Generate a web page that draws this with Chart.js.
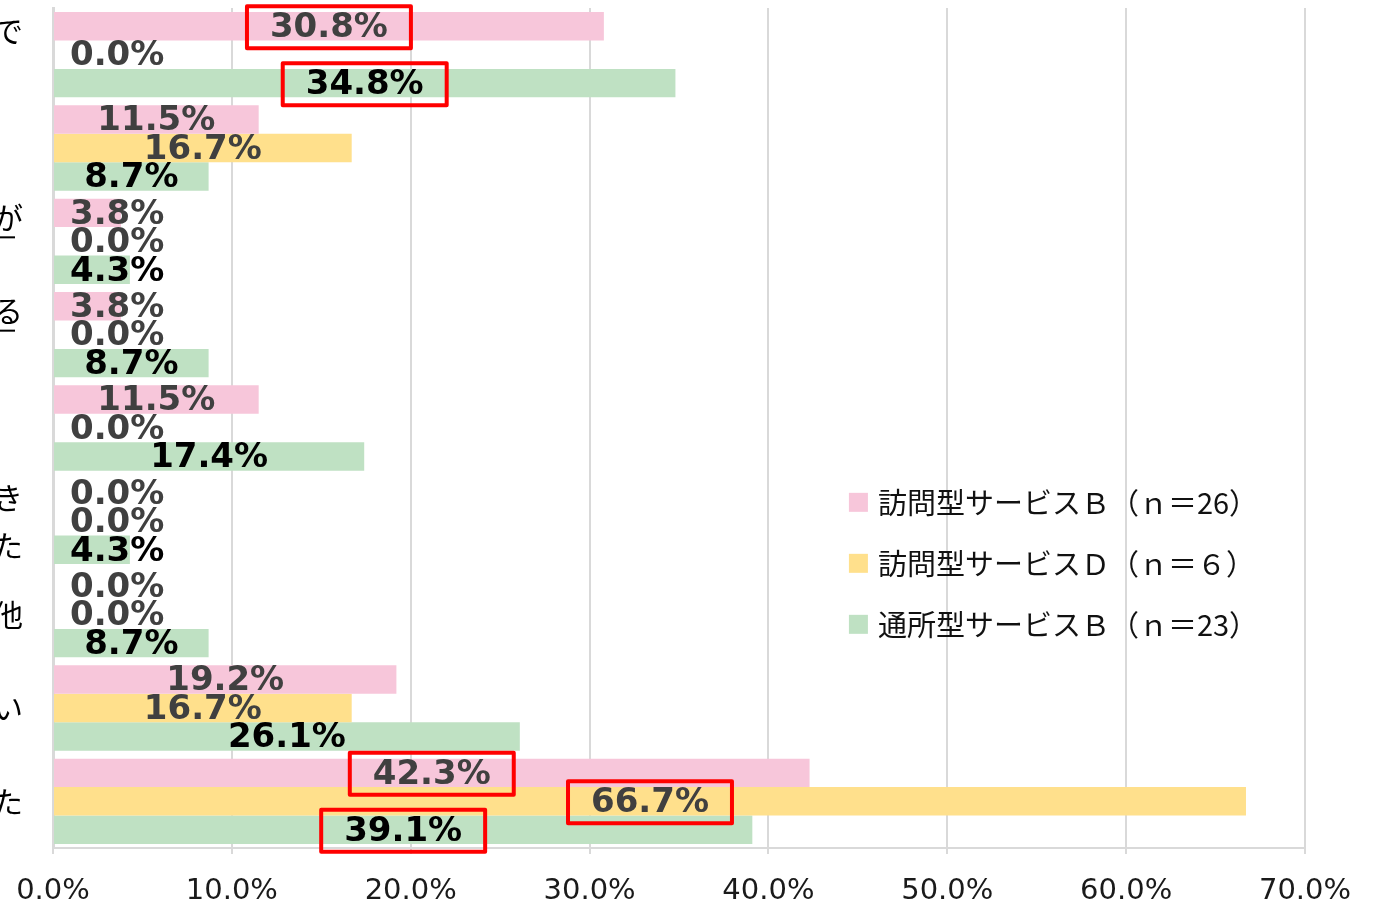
<!DOCTYPE html>
<html>
<head>
<meta charset="utf-8">
<script src="https://cdn.jsdelivr.net/npm/chart.js@4"></script>
<style>
  html, body { margin: 0; padding: 0; background: #fff; overflow: hidden; }
  #wrap { position: absolute; left: -10px; top: 0; width: 1383px; height: 904px; }
</style>
</head>
<body>
<div id="wrap"><canvas id="kadaiChart"></canvas></div>
<script>
// category labels are cut off at the left edge in the original, only the last characters show
const categories = [['で', ''], [''], ['が', ''], ['る', ''], [''], ['き', 'た'], ['他'], ['い'], ['た']];
const underlined = [2, 3];
const seriesNames = ['訪問型サービスＢ（ｎ＝26）', '訪問型サービスＤ（ｎ＝６）', '通所型サービスＢ（ｎ＝23）'];
const houmonB = [30.8, 11.5, 3.8, 3.8, 11.5, 0.0, 0.0, 19.2, 42.3];
const houmonD = [0.0, 16.7, 0.0, 0.0, 0.0, 0.0, 0.0, 16.7, 66.7];
const tsuushoB = [34.8, 8.7, 4.3, 8.7, 17.4, 4.3, 8.7, 26.1, 39.1];
const tickLabels = ['0.0%', '10.0%', '20.0%', '30.0%', '40.0%', '50.0%', '60.0%', '70.0%'];
// [series, category] of the labels boxed in red
const highlighted = [[0, 0], [2, 0], [0, 8], [1, 8], [2, 8]];

const colors = ['#F7C6DA', '#FFE08C', '#BFE1C3'];
const labelColors = ['#404040', '#404040', '#000000'];

const barLabels = {
  id: 'barLabels',
  afterDatasetsDraw(chart) {
    const c = chart.ctx;
    const left = chart.chartArea.left;
    c.save();
    c.font = 'bold 34px "DejaVu Sans"';
    c.textAlign = 'center';
    c.textBaseline = 'middle';
    chart.data.datasets.forEach((ds, si) => {
      chart.getDatasetMeta(si).data.forEach((bar, i) => {
        const txt = ds.data[i].toFixed(1) + '%';
        const w = c.measureText(txt).width;
        const x = Math.max((bar.x + bar.base) / 2, left + 17 + w / 2);
        const y = bar.y + 2;
        c.fillStyle = labelColors[si];
        c.fillText(txt, x, y);
        if (highlighted.some(h => h[0] === si && h[1] === i)) {
          c.strokeStyle = '#FF0000';
          c.lineWidth = 4;
          c.lineJoin = 'round';
          c.strokeRect(x - w / 2 - 23, y - 22, w + 46, 42);
        }
      });
    });
    // underlined category labels
    const ys = chart.scales.y;
    c.strokeStyle = '#000';
    c.lineWidth = 2;
    underlined.forEach(i => {
      const py = ys.getPixelForValue(i) - 4;
      c.beginPath();
      c.moveTo(0, py);
      c.lineTo(25, py);
      c.stroke();
    });
    // legend inside the plot
    c.font = '29px "Noto Sans CJK JP"';
    c.textAlign = 'left';
    const lx = chart.scales.x.getPixelForValue(44.5);
    const ly = chart.scales.y.getPixelForValue(5) - 19;
    seriesNames.forEach((name, si) => {
      const yy = ly + si * 61;
      c.fillStyle = colors[si];
      c.fillRect(lx, yy - 9.5, 19, 19);
      c.fillStyle = '#111';
      c.fillText(name, lx + 29, yy + 1);
    });
    c.restore();
  }
};

const ctx = document.getElementById('kadaiChart').getContext('2d');
const kadaiChart = new Chart(ctx, {
  type: 'bar',
  data: {
    labels: categories,
    datasets: [houmonB, houmonD, tsuushoB].map((d, si) => ({
      label: seriesNames[si],
      data: d,
      backgroundColor: colors[si],
      borderWidth: 0,
      barPercentage: 1.0,
      categoryPercentage: 0.915
    }))
  },
  options: {
    indexAxis: 'y',
    responsive: true,
    maintainAspectRatio: false,
    animation: false,
    layout: { padding: { top: 8, right: 68, bottom: 0, left: 0 } },
    plugins: {
      legend: { display: false },
      tooltip: { enabled: false }
    },
    scales: {
      x: {
        min: 0,
        max: 70,
        afterFit: (scale) => {
          scale.height = 56;
          scale.paddingBottom = 0;
        },
        ticks: {
          stepSize: 10,
          padding: 20,
          color: '#1a1a1a',
          font: { family: 'DejaVu Sans', size: 29 },
          callback: (v, i) => tickLabels[i]
        },
        grid: { color: '#D9D9D9', lineWidth: 2, tickLength: 6 },
        border: { color: '#D9D9D9', width: 2 }
      },
      y: {
        afterFit: (scale) => {
          scale.width = 63;
          scale.paddingTop = 0;
          scale.paddingBottom = 0;
        },
        ticks: {
          autoSkip: false,
          padding: 30,
          color: '#000',
          font: { family: 'Noto Sans CJK JP', size: 30, lineHeight: 1.6 }
        },
        grid: { display: false, drawTicks: false },
        border: { color: '#D9D9D9', width: 3 }
      }
    }
  },
  plugins: [barLabels]
});
</script>
</body>
</html>
